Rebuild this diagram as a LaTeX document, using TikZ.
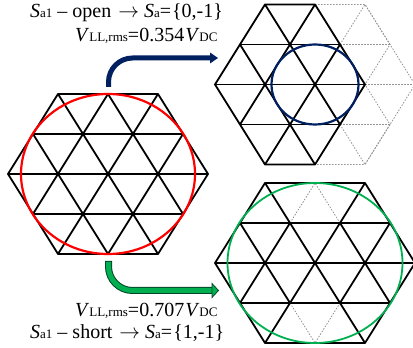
\documentclass[tikz,border=0pt]{standalone}
\usepackage{fontspec}
\setmainfont{Liberation Serif}
\definecolor{navyline}{RGB}{0,32,96}
\definecolor{greenline}{RGB}{0,176,80}
\definecolor{greendark}{RGB}{0,70,40}
\tikzset{
    edge/.style={black, line width=1.8pt, line join=round},
    ghost/.style={gray!85, line width=0.8pt, dash pattern=on 1.5pt off 1.5pt},
    label/.style={font=\fontsize{20}{20}\selectfont, inner sep=0pt, anchor=base west},
}
\newcommand{\sub}[1]{{\fontsize{13}{13}\selectfont #1}}
\begin{document}
\begin{tikzpicture}[x=1pt,y=1pt]
\useasboundingbox (0,0) rectangle (413,348);
% left hexagon
\begin{scope}[shift={(108,174)}]
    \draw[edge] (-50,80) -- (50,80) -- (100,0) -- (50,-80) -- (-50,-80) -- (-100,0) -- cycle;
    \foreach \y in {-40,40} {
        \draw[edge] (-75,\y) -- (75,\y);
    }
    \draw[edge] (-100,0) -- (100,0);
    \foreach \x/\y/\u/\v in {-75/40/0/-80, -50/80/50/-80, 0/80/75/-40, -75/-40/0/80, -50/-80/50/80, 0/-80/75/40} {
        \draw[edge] (\x,\y) -- (\u,\v);
    }
    \draw[red, line width=2.2pt] (0,0) ellipse (87 and 80);
\end{scope}
% upper hexagon
\begin{scope}[shift={(315,263.5)}]
    \draw[ghost] (0,80) -- (50,80) -- (100,0) -- (50,-80) -- (0,-80);
    \draw[ghost] (50,0) -- (100,0);
    \foreach \y in {-40,40} {
        \draw[ghost] (25,\y) -- (75,\y);
        \draw[edge] (-75,\y) -- (25,\y);
    }
    \draw[ghost] (25,40) -- (50,80) -- (75,40) -- (50,0) -- (25,40);
    \draw[ghost] (25,-40) -- (50,-80) -- (75,-40) -- (50,0) -- (25,-40);
    \draw[edge] (-50,80) -- (0,80) -- (50,0) -- (0,-80) -- (-50,-80) -- (-100,0) -- cycle;
    \draw[edge] (-100,0) -- (50,0);
    \foreach \x/\y/\u/\v in {-75/40/0/-80, -50/80/25/-40, -75/-40/0/80, -50/-80/25/40} {
        \draw[edge] (\x,\y) -- (\u,\v);
    }
    \draw[navyline, line width=2.2pt] (0,0) ellipse (43.5 and 40);
\end{scope}
% lower hexagon
\begin{scope}[shift={(315,85)}]
    \draw[ghost] (-25,40) -- (0,80) -- (25,40);
    \draw[ghost] (-25,-40) -- (0,-80) -- (25,-40);
    \draw[edge] (-50,80) -- (50,80) -- (100,0) -- (50,-80) -- (-50,-80) -- (-100,0) -- cycle;
    \foreach \y in {-40,40} {
        \draw[edge] (-75,\y) -- (75,\y);
    }
    \draw[edge] (-100,0) -- (100,0);
    \foreach \x/\y/\u/\v in {-75/40/-25/-40, -50/80/50/-80, 25/40/75/-40, -75/-40/-25/40, -50/-80/50/80, 25/-40/75/40} {
        \draw[edge] (\x,\y) -- (\u,\v);
    }
    \draw[greenline, line width=1.8pt] (0,0) ellipse (87.5 and 80);
\end{scope}
% arrows between the hexagons
\coordinate (openstart) at (108.5,261);
\coordinate (openend) at (211,290);
\coordinate (shortstart) at (108.5,87);
\coordinate (shortend) at (212,57.5);
\draw[navyline, line width=5pt, rounded corners=24pt] (openstart) |- (openend);
\fill[navyline] (218,290) -- (210,295.5) -- (210,284.5) -- cycle;
\draw[greendark, line width=7pt, rounded corners=24pt] (shortstart) |- (shortend);
\draw[greenline, line width=5pt, rounded corners=24pt] ([yshift=-0.8pt]shortstart) |- (shortend);
\filldraw[fill=greenline, draw=greendark, line width=0.8pt] (218.5,57.5) -- (212,64.5) -- (212,50.5) -- cycle;
% labels
\node[label] (opencase) at (30,330) {\textit{S}\sub{a1} – open\kern2pt{} $\rightarrow$ \textit{S}\sub{a}=\kern1pt\{0,-1\}};
\node[label] (openrms) at (75,306) {\textit{V}\sub{LL,rms}=0.354\kern1pt\textit{V}\sub{DC}};
\node[label] (shortrms) at (75,31) {\textit{V}\sub{LL,rms}=0.707\kern1pt\textit{V}\sub{DC}};
\node[label] (shortcase) at (30,9) {\textit{S}\sub{a1} – short\kern2pt{} $\rightarrow$ \textit{S}\sub{a}=\kern1pt\{1,-1\}};
\end{tikzpicture}
\end{document}
